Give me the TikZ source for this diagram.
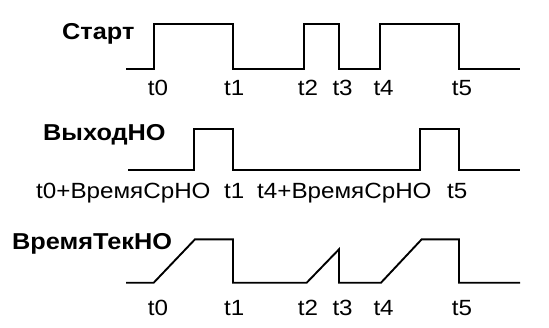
\documentclass[tikz,border=0pt]{standalone}
\usepackage{fontspec}
\setmainfont{Liberation Sans}[FakeStretch=1.1]
\begin{document}
\begin{tikzpicture}[x=1pt,y=-1pt,
  wave/.style={line width=1.9pt,line join=miter},
  lbl/.style={anchor=base west,inner sep=0pt,font=\fontsize{22}{25}\selectfont},
  title/.style={anchor=base west,inner sep=0pt,font=\fontsize{23}{26}\selectfont\bfseries}]
\useasboundingbox (0,0) rectangle (549,327);
% Start
\node[title] (sT) at (62,39.3) {Старт};
\draw[wave] (126,69) -- (153.7,69) -- (153.7,24.3) -- (233,24.3) -- (233,69) -- (304,69) -- (304,24.3) -- (339,24.3) -- (339,69) -- (380,69) -- (380,24.3) -- (459,24.3) -- (459,69) -- (520,69);
\node[lbl] (a0) at (147.7,95) {t0};
\node[lbl] (a1) at (224,95) {t1};
\node[lbl] (a2) at (297.7,95) {t2};
\node[lbl] (a3) at (332.3,95) {t3};
\node[lbl] (a4) at (373.3,95) {t4};
\node[lbl] (a5) at (451.7,95) {t5};
% Output
\node[title] (oT) at (43,140.7) {ВыходНО};
\draw[wave] (128,170) -- (194,170) -- (194,129.3) -- (233,129.3) -- (233,170) -- (420,170) -- (420,129.3) -- (459,129.3) -- (459,170) -- (520,170);
\node[lbl] (b0) at (36,198.3) {t0+ВремяСрНО};
\node[lbl] (b1) at (224,198.3) {t1};
\node[lbl] (b4) at (257,198.3) {t4+ВремяСрНО};
\node[lbl] (b5) at (447,198.3) {t5};
% Time
\node[title] (tT) at (12,249.5) {ВремяТекНО};
\draw[wave] (126,282.7) -- (153.7,282.7) -- (195,239.3) -- (233,239.3) -- (233,282.7) -- (306.7,282.7) -- (339,249.3) -- (339,282.7) -- (381,282.7) -- (421.7,239.3) -- (459,239.3) -- (459,282.7) -- (520,282.7);
\node[lbl] (c0) at (147.7,315) {t0};
\node[lbl] (c1) at (224,315) {t1};
\node[lbl] (c2) at (297.7,315) {t2};
\node[lbl] (c3) at (332.3,315) {t3};
\node[lbl] (c4) at (373.3,315) {t4};
\node[lbl] (c5) at (451.7,315) {t5};
\end{tikzpicture}
\end{document}
